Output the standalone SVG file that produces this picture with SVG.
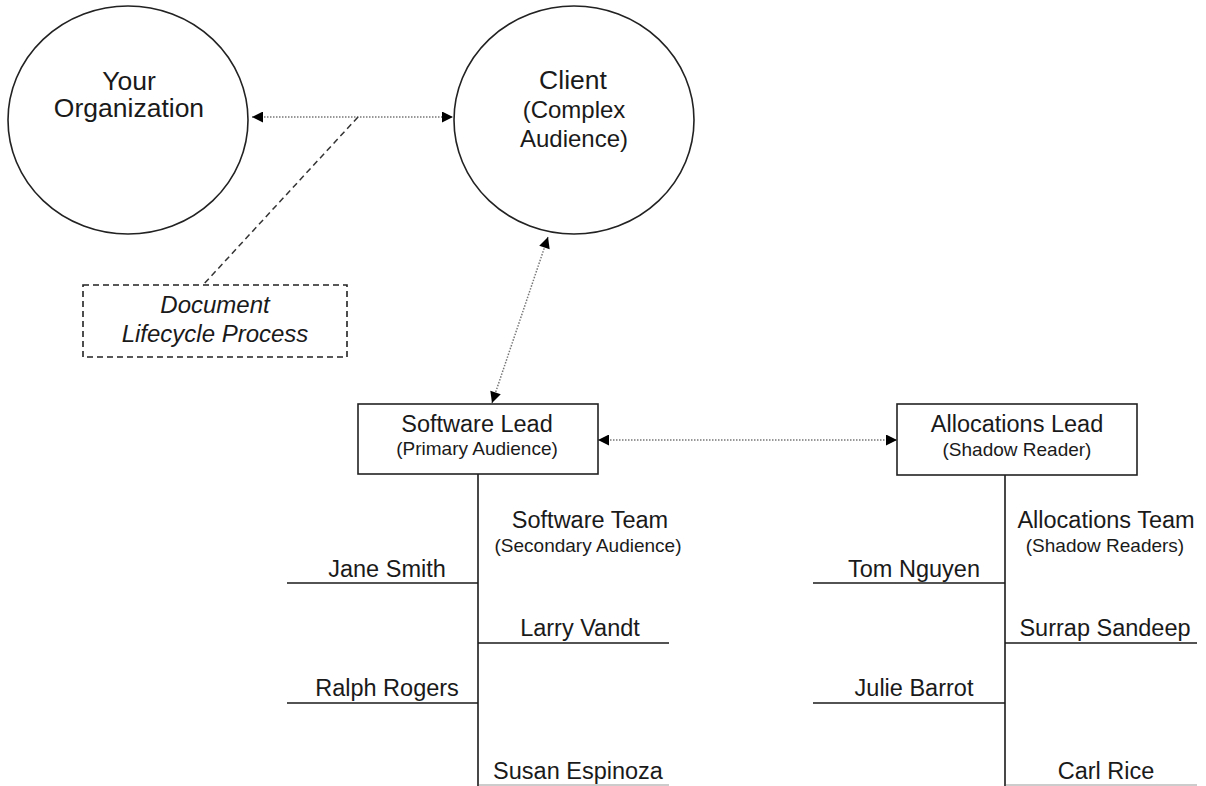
<svg xmlns="http://www.w3.org/2000/svg" width="1206" height="786" viewBox="0 0 1206 786">
<style>
text{font-family:"Liberation Sans",Arial,sans-serif;fill:#1a1a1a;text-anchor:middle}
.big{font-size:26.5px}
.sub{font-size:24px}
.lead{font-size:23.5px}
.par{font-size:19px}
.name{font-size:23.5px}
.it{font-size:24px;font-style:italic}
.node{fill:#fff;stroke:#222;stroke-width:1.6}
.dash{fill:#fff;stroke:#222;stroke-width:1.6;stroke-dasharray:6 4}
.dot{fill:none;stroke:#777;stroke-width:1.5;stroke-dasharray:1.5 1.5}
.dl{fill:none;stroke:#333;stroke-width:1.5;stroke-dasharray:6 4}
.tree{fill:none;stroke:#1a1a1a;stroke-width:1.6}
</style>
<defs>
<marker id="ah" viewBox="0 0 10 10" refX="10" refY="5" markerUnits="userSpaceOnUse" markerWidth="14" markerHeight="11" orient="auto-start-reverse">
<path d="M0,0 L10,5 L0,10 z" fill="#000"/>
</marker>
</defs>
<rect width="1206" height="786" fill="#fff"/>
<g id="connectors">
<line class="dot" x1="252" y1="117" x2="453" y2="117" marker-start="url(#ah)" marker-end="url(#ah)"/>
<line class="dl" x1="358" y1="117" x2="203" y2="285"/>
<line class="dot" x1="548" y1="237" x2="492" y2="403" marker-start="url(#ah)" marker-end="url(#ah)"/>
<line class="dot" x1="598" y1="440" x2="897" y2="440" marker-start="url(#ah)" marker-end="url(#ah)"/>
<g id="software-tree" class="tree">
<line x1="478" y1="474" x2="478" y2="786"/>
<line x1="287" y1="583" x2="478" y2="583"/>
<line x1="478" y1="643" x2="669" y2="643"/>
<line x1="287" y1="703" x2="478" y2="703"/>
<line x1="479" y1="785" x2="669" y2="785" stroke="#bbb"/>
</g>
<g id="allocations-tree" class="tree">
<line x1="1005" y1="475" x2="1005" y2="786"/>
<line x1="813" y1="583" x2="1005" y2="583"/>
<line x1="1005" y1="643" x2="1197" y2="643"/>
<line x1="813" y1="703" x2="1005" y2="703"/>
<line x1="1006" y1="785" x2="1197" y2="785" stroke="#bbb"/>
</g>
</g>
<g id="your-organization">
<ellipse class="node" cx="128" cy="120" rx="120" ry="114"/>
<text class="big" x="129" y="90">Your</text>
<text class="big" x="129" y="117">Organization</text>
</g>
<g id="client">
<ellipse class="node" cx="574" cy="120" rx="120" ry="114"/>
<text class="big" x="573" y="89">Client</text>
<text class="sub" x="574" y="118">(Complex</text>
<text class="sub" x="574" y="147">Audience)</text>
</g>
<g id="document-lifecycle">
<rect class="dash" x="83" y="285" width="264" height="72"/>
<text class="it" x="215" y="313">Document</text>
<text class="it" x="215" y="342">Lifecycle Process</text>
</g>
<g id="software-lead">
<rect class="node" x="358" y="404" width="240" height="70"/>
<text class="lead" x="477" y="432">Software Lead</text>
<text class="par" x="477" y="455">(Primary Audience)</text>
</g>
<g id="allocations-lead">
<rect class="node" x="897" y="404" width="240" height="71"/>
<text class="lead" x="1017" y="432">Allocations Lead</text>
<text class="par" x="1017" y="456">(Shadow Reader)</text>
</g>
<g id="software-team">
<text class="name" x="590" y="528">Software Team</text>
<text class="par" x="588" y="552">(Secondary Audience)</text>
</g>
<g id="jane-smith"><text class="name" x="387" y="577">Jane Smith</text></g>
<g id="larry-vandt"><text class="name" x="580" y="636">Larry Vandt</text></g>
<g id="ralph-rogers"><text class="name" x="387" y="696">Ralph Rogers</text></g>
<g id="susan-espinoza"><text class="name" x="578" y="779">Susan Espinoza</text></g>
<g id="allocations-team">
<text class="name" x="1106" y="528">Allocations Team</text>
<text class="par" x="1105" y="552">(Shadow Readers)</text>
</g>
<g id="tom-nguyen"><text class="name" x="914" y="577">Tom Nguyen</text></g>
<g id="surrap-sandeep"><text class="name" x="1105" y="636">Surrap Sandeep</text></g>
<g id="julie-barrot"><text class="name" x="914" y="696">Julie Barrot</text></g>
<g id="carl-rice"><text class="name" x="1106" y="779">Carl Rice</text></g>
</svg>
